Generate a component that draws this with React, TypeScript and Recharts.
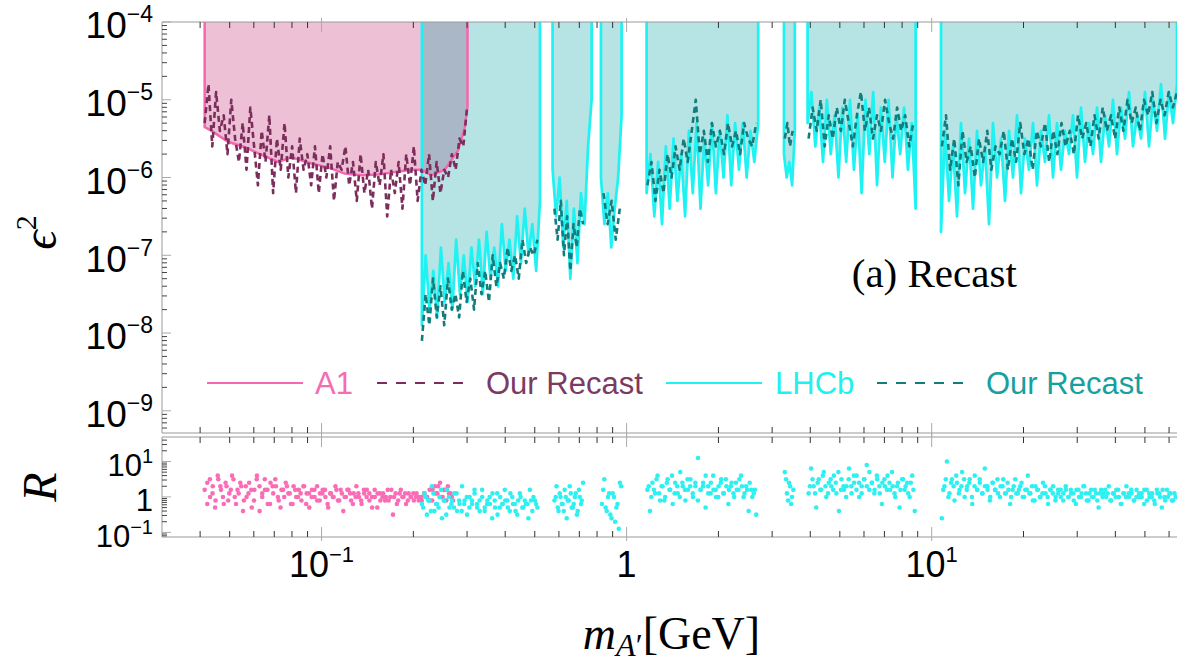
import React from "react";
import {
  ComposedChart,
  Area,
  Line,
  Scatter,
  XAxis,
  YAxis,
  ReferenceDot,
  Legend,
} from "recharts";

// masses in GeV, limits as log10(eps^2), ratios as log10(R)

const a1Mass = [0.0414, 0.0414, 0.0436, 0.0494, 0.0561, 0.0636, 0.0721, 0.0797, 0.0927, 0.1051, 0.1192, 0.1352, 0.1533, 0.1739, 0.1973, 0.2129, 0.2295, 0.2536, 0.2805, 0.295, 0.301, 0.301];
const a1Limit = [-4, -5.35, -5.4, -5.54, -5.61, -5.71, -5.8, -5.74, -5.82, -5.87, -5.95, -5.97, -5.96, -5.93, -5.9, -5.9, -5.97, -5.9, -5.65, -5.35, -5.09, -4];

const a1RecastRange = [0.0414, 0.3];
const a1Recast = [
  -5.3, -4.8, -5.6, -4.9, -5.4, -5.2, -5.7, -5.0, -5.5, -5.8,
  -5.3, -5.9, -5.1, -5.6, -6.1, -5.4, -5.8, -5.2, -6.2, -5.5,
  -5.9, -5.3, -6.0, -5.6, -6.2, -5.5, -5.9, -5.7, -6.1, -5.6,
  -6.2, -5.7, -6.0, -5.6, -6.3, -5.8, -5.9, -5.6, -6.1, -5.8,
  -6.3, -5.7, -6.2, -5.9, -6.4, -5.8, -6.1, -5.7, -6.5, -5.9,
  -6.2, -5.8, -6.4, -5.7, -6.1, -5.6, -6.3, -5.9, -6.1, -5.7,
  -6.3, -5.8, -6.2, -5.9, -6.0, -5.7, -5.9, -5.5, -5.6, -5.1,
];

const lhcbRanges = [
  [0.2133, 0.52], [0.572, 0.768], [0.824, 0.963], [1.163, 2.7], [3.28, 3.56], [3.92, 8.86], [10.73, 63.7],
];
const lhcbLimit = [
  [-7.9, -7.0, -7.7, -7.2, -7.8, -6.9, -7.6, -7.1, -7.7, -6.8, -7.5, -7.0, -7.6, -6.9, -7.4, -6.8,
    -7.5, -6.7, -7.3, -6.9, -7.4, -6.6, -7.2, -6.8, -7.3, -6.5, -7.1, -6.4, -7.0, -6.6, -7.2, -6.3],
  [-5.9, -6.5, -6.0, -6.9, -6.3, -7.3, -6.4, -7.1, -6.2, -6.6, -5.6, -5.0],
  [-6.0, -6.6, -6.2, -6.9, -6.4, -6.0, -5.2],
  [-6.2, -5.7, -6.5, -5.8, -6.6, -5.6, -6.4, -5.5, -6.3, -5.7, -6.5, -5.4, -6.2, -5.3, -6.4,
    -5.5, -6.1, -5.3, -6.2, -5.4, -6.0, -5.2, -6.1, -5.3, -5.9, -5.3, -6.0, -5.4, -5.8, -5.3],
  [-5.7, -6.0, -5.8, -6.1, -5.4],
  [-5.3, -4.9, -5.6, -5.1, -5.8, -5.0, -5.7, -5.2, -6.0, -5.1, -5.8, -5.0, -5.9, -5.2, -6.2,
    -5.0, -5.7, -4.9, -6.1, -5.1, -5.8, -5.0, -6.0, -5.2, -5.7, -5.1, -5.9, -5.3, -6.4],
  [-6.7, -5.4, -6.3, -5.6, -6.5, -5.3, -6.2, -5.5, -6.4, -5.4,
    -6.1, -5.6, -6.6, -5.3, -6.0, -5.5, -6.3, -5.4, -6.0, -5.2,
    -6.2, -5.5, -5.9, -5.3, -6.1, -5.4, -5.8, -5.2, -6.0, -5.3,
    -5.9, -5.4, -5.7, -5.2, -6.0, -5.1, -5.8, -5.3, -5.7, -5.1,
    -5.8, -5.2, -5.6, -5.0, -5.7, -5.1, -5.5, -4.9, -5.6, -5.2,
    -5.5, -4.9, -5.6, -5.0, -5.4, -4.8, -5.5, -4.9, -5.3, -4.8],
];

const lhcbRecastRanges = [
  [0.2133, 0.51], [0.58, 0.72], [0.84, 0.95], [1.17, 2.66], [3.3, 3.5], [3.95, 8.7], [10.8, 63.7],
];
const lhcbRecast = [
  [-8.1, -7.5, -7.9, -7.3, -7.8, -7.4, -7.9, -7.3, -7.7, -7.5, -7.8, -7.2, -7.6, -7.3, -7.7, -7.1,
    -7.5, -7.2, -7.6, -7.0, -7.4, -7.1, -7.3, -6.9, -7.2, -7.0, -7.3, -6.8, -7.1, -6.9, -7.0, -6.8],
  [-6.4, -6.8, -6.3, -7.0, -6.5, -7.2, -6.6, -6.9, -6.4, -6.6],
  [-6.2, -6.6, -6.3, -6.8, -6.4],
  [-6.1, -5.8, -6.3, -5.9, -6.2, -5.7, -6.0, -5.6, -5.9, -5.5, -5.8, -5.4, -5.0, -5.7,
    -5.4, -5.8, -5.3, -5.6, -5.4, -5.7, -5.3, -5.6, -5.4, -5.7, -5.3, -5.5, -5.6, -5.3],
  [-5.5, -5.3, -5.6, -5.4],
  [-5.5, -5.1, -5.4, -5.0, -5.6, -5.2, -5.5, -5.1, -5.4, -5.0, -5.3, -5.6, -5.2, -4.9,
    -5.4, -5.1, -5.5, -5.2, -5.4, -5.0, -5.3, -5.5, -5.1, -5.4, -5.2, -5.6, -5.3],
  [-5.6, -5.2, -5.9, -5.5, -6.1, -5.4, -5.8, -5.6, -6.0, -5.5,
    -5.8, -5.4, -5.9, -5.6, -5.7, -5.4, -5.9, -5.5, -5.8, -5.3,
    -5.7, -5.5, -5.9, -5.4, -5.6, -5.3, -5.8, -5.4, -5.7, -5.3,
    -5.6, -5.4, -5.7, -5.2, -5.5, -5.3, -5.6, -5.2, -5.5, -5.1,
    -5.4, -5.2, -5.5, -5.1, -5.4, -5.0, -5.3, -5.1, -5.4, -5.0,
    -5.2, -4.9, -5.3, -5.0, -5.2, -4.9, -5.1, -4.9],
];

const ratioA1Range = [0.0414, 0.27];
const ratioA1 = [
  0.2, -0.2, 0.5, 0.1, -0.3, 0.6, 0.3, 0.0, 0.4, -0.1, 0.2, 0.5, -0.2, 0.1, 0.3, -0.1,
  0.0, 0.4, -0.3, 0.2, 0.6, -0.4, 0.1, 0.5, 0.2, -0.2, 0.3, 0.5, 0.0, -0.3, 0.2, 0.4,
  0.1, -0.2, 0.3, 0.0, 0.2, -0.1, 0.3, 0.1, -0.3, 0.2, 0.0, 0.3, -0.1, 0.1, 0.2, -0.2,
  0.1, 0.0, 0.3, -0.1, 0.2, -0.4, 0.0, 0.2, -0.1, 0.1, 0.3, 0.0, -0.2, 0.1, 0.2, -0.1,
  0.0, 0.2, -0.3, 0.1, 0.0, -0.1, 0.2, 0.0, -0.5, 0.1, -0.1, 0.2, 0.0, -0.2, 0.1, 0.0,
  -0.1, 0.1, 0.0, -0.1, 0.1, 0.0, 0.2, -0.1, 0.3, 0.1, 0.4, 0.0, 0.2, 0.3, 0.1, -0.1,
];
const ratioA1Extra = [
  0.4, 0.0, 0.3, -0.1, 0.5, 0.2, -0.2, 0.3, 0.1, 0.6, 0.0, 0.2, 0.4, -0.4, 0.3, 0.1,
  0.2, -0.1, 0.5, 0.3, 0.0, 0.2, -0.2, 0.4, 0.1, 0.3, -0.1, 0.2, 0.0, 0.3, 0.1, -0.2,
  0.2, 0.0, 0.1, 0.3, -0.2, 0.1, 0.0, 0.2, -0.1, 0.1, 0.2, 0.0, -0.3, 0.1, 0.0, 0.2,
  -0.1, 0.1, 0.0, 0.2, 0.1, -0.2, 0.0, 0.1, -0.1, 0.2, 0.0, 0.1, -0.3, 0.0, 0.1, -0.1,
  0.1, 0.0, -0.1, 0.2, 0.0, -0.2, 0.1, 0.0, 0.1, -0.1, 0.0, 0.1, 0.0, -0.1, 0.0, 0.1,
  0.0, -0.1, 0.2, 0.1, 0.3, 0.0, 0.2, -0.1, 0.1, 0.0,
];

const ratioLhcbRanges = [
  [0.2133, 0.51], [0.58, 0.72], [0.83, 0.96], [1.17, 2.66], [3.3, 3.52], [3.95, 8.8], [10.8, 63.7],
];
const ratioLhcb = [
  [-0.2, 0.1, -0.5, -0.1, 0.3, -0.4, -0.2, 0.0, -0.6, -0.1, 0.2, -0.3, -0.1, 0.1, -0.4, -0.2,
    0.3, -0.1, -0.5, 0.0, -0.2, 0.1, -0.3, -0.1, 0.2, -0.4, -0.2, 0.0, -0.6, -0.1, 0.1, -0.3,
    -0.2, 0.2, -0.1, -0.4, 0.0, -0.2, -0.5, 0.1, -0.3, -0.1, -0.2, 0.2, -0.4, -0.1, -0.3],
  [-0.1, 0.3, -0.4, 0.0, -0.2, 0.2, -0.6, -0.1, 0.1, -0.3, 0.0, -0.5, 0.2, -0.2, 0.4],
  [-0.2, 0.5, -0.4, 0.1, -0.6, 0.0, -0.3, -0.9, 0.3],
  [0.2, -0.4, 0.4, 0.1, 0.6, -0.1, 0.3, 0.0, 0.5, 0.2, -0.2, 0.4, 0.1, 0.7, 0.3, -0.1,
    0.2, 0.5, 0.0, 0.3, 1.1, 0.2, 0.4, -0.3, 0.3, 0.1, 0.6, 0.2, 0.0, 0.4, 0.1, 0.5,
    -0.2, 0.3, 0.1, 0.4, 0.2, 0.6, 0.0, 0.3, -0.4, 0.2, 0.1, -0.5],
  [0.7, 0.1, 0.4, -0.2, 0.2],
  [0.1, 0.8, 0.3, -0.3, 0.5, 0.2, 0.7, 0.0, 0.4, 0.3, 0.6, 0.1, -0.4, 0.5, 0.2, 0.3,
    0.8, 0.1, 0.4, 0.6, 0.0, 0.3, 0.5, 0.9, 0.2, 0.4, 0.1, 0.6, 0.3, -0.2, 0.5, 0.2,
    0.4, 0.7, 0.1, 0.3, -0.3, 0.5, 0.2, 0.4, 0.0, 0.6, -0.4],
  [-0.6, 0.3, 1.0, 0.1, 0.5, -0.1, 0.4, 0.2, 0.7, 0.0, 0.3, 0.5, -0.2, 0.6, 0.2, 0.4,
    0.1, 0.8, 0.3, -0.1, 0.4, 0.2, 0.5, 0.0, 0.3, 0.1, 0.4, -0.2, 0.2, 0.5, 0.1, 0.3,
    0.0, 0.2, 0.6, 0.1, -0.1, 0.3, 0.2, 0.0, 0.4, 0.1, -0.2, 0.2, 0.3, 0.0, 0.1, 0.2,
    -0.1, 0.3, 0.0, 0.2, 0.1, -0.2, 0.2, 0.0, 0.3, 0.1, -0.1, 0.2, 0.0, 0.1, -0.3, 0.2,
    0.1, 0.0, 0.3, -0.1, 0.1, 0.2, 0.0, -0.2, 0.1, 0.3, 0.0, 0.1, -0.1, 0.2, 0.0, 0.1,
    -0.2, 0.2, 0.1, 0.0, -0.1, 0.2, 0.1, -0.3, 0.0, 0.2, 0.1, -0.1, 0.1, 0.0],
];
const ratioLhcbExtra = [
  [-0.3, 0.0, -0.1, -0.4, 0.1, -0.2, -0.3, 0.2, -0.1, -0.5, 0.0, -0.2, -0.3, 0.1, -0.1, -0.4,
    -0.2, 0.0, -0.3, -0.1, 0.2, -0.2, -0.4, 0.0, -0.3, -0.1, -0.2, 0.1, -0.3, -0.5, 0.0, -0.2,
    -0.1, -0.3, 0.1, -0.2, -0.4, -0.1, 0.0, -0.3, -0.2, -0.6, -0.1, 0.0, -0.2],
  [0.0, -0.3, 0.1, -0.2, -0.4, 0.0, -0.1, 0.3, -0.3, -0.2, 0.1, -0.4, 0.0, -0.1],
  [0.2, -0.3, 0.0, -0.5, 0.1, -0.7, -0.2, 0.4],
  [0.3, 0.0, 0.2, 0.5, 0.1, 0.3, -0.1, 0.4, 0.2, 0.6, 0.1, 0.3, 0.0, 0.4, 0.2, 0.5,
    0.3, 0.1, 0.4, -0.1, 0.2, 0.3, 0.6, 0.1, 0.4, 0.2, 0.0, 0.3, 0.5, 0.1, 0.3, 0.2,
    0.4, 0.0, 0.2, 0.5, 0.3, 0.1, 0.2, 0.4, 0.0, 0.2],
  [0.5, -0.1, 0.3, 0.0],
  [0.3, 0.5, 0.1, 0.4, 0.2, 0.6, 0.3, 0.1, 0.5, 0.2, 0.4, 0.7, 0.2, 0.3, 0.0, 0.5,
    0.3, 0.6, 0.2, 0.4, 0.1, 0.5, 0.3, 0.7, 0.4, 0.2, 0.5, 0.1, 0.4, 0.3, 0.6, 0.2,
    0.3, 0.0, 0.4, 0.2, 0.5, 0.3, 0.1, 0.4, 0.2],
  [0.2, 0.5, 0.0, 0.4, 0.3, 0.6, 0.1, 0.3, 0.5, 0.2, 0.4, 0.0, 0.3, 0.2, 0.5, 0.1,
    0.3, 0.2, 0.0, 0.4, 0.2, 0.1, 0.3, 0.5, 0.1, 0.2, 0.0, 0.3, 0.1, 0.2, 0.4, 0.0,
    0.2, 0.1, 0.3, -0.1, 0.2, 0.0, 0.1, 0.3, 0.0, 0.2, 0.1, -0.1, 0.2, 0.0, 0.1, 0.2,
    0.0, 0.1, -0.1, 0.2, 0.0, 0.1, 0.3, -0.1, 0.1, 0.0, 0.2, -0.1, 0.1, 0.0, 0.2, 0.1,
    -0.1, 0.1, 0.0, 0.2, -0.2, 0.1, 0.0, 0.1, 0.2, -0.1, 0.0, 0.1, 0.0, 0.2, -0.1, 0.0,
    0.1, -0.2, 0.1, 0.0, 0.2, -0.1, 0.0, 0.1, -0.1, 0.0],
];

const xDomain = [0.03, 63.7];
const epsDomain = [5.18e-10, 1e-4];
const ratioDomain = [0.0741, 49];
const xMajor = [0.1, 1, 10];
const epsMajor = [1e-9, 1e-8, 1e-7, 1e-6, 1e-5, 1e-4];
const ratioMajor = [0.1, 1, 10];

const legendItems = [
  { label: "A1", line: "#f766b0", text: "#f56cb2", dashed: false },
  { label: "Our Recast", line: "#7b2d5b", text: "#7b3a62", dashed: true },
  { label: "LHCb", line: "#1ef2f2", text: "#1ff0f0", dashed: false },
  { label: "Our Recast", line: "#137c7c", text: "#16a0a0", dashed: true },
];

const SANS = '"Liberation Sans", Arial, Helvetica, sans-serif';
const SERIF = '"Liberation Serif", "Times New Roman", serif';
const TOP = 1e-4;

const withMinors = (majors: number[], lo: number, hi: number) => {
  const out: number[] = [];
  majors.concat([majors[0] / 10]).forEach((d) => {
    for (let k = 1; k < 10; k++) {
      const v = k * d;
      if (v >= lo && v <= hi) out.push(v);
    }
  });
  return out.sort((a, b) => a - b);
};

const spread = (lo: number, hi: number, n: number) =>
  Array.from({ length: n }, (_, i) => lo * Math.pow(hi / lo, n === 1 ? 0 : i / (n - 1)));

const isMajor = (v: number) => Math.abs(Math.log10(v) - Math.round(Math.log10(v))) < 1e-6;

const a1Band = a1Mass.map((m, i) => ({ m, band: [10 ** a1Limit[i], TOP] }));
const a1Line = a1Mass.map((m, i) => ({ m, v: 10 ** a1Limit[i] }));
const a1RecastLine = spread(a1RecastRange[0], a1RecastRange[1], a1Recast.length).map((m, i) => ({
  m,
  v: 10 ** a1Recast[i],
}));

const lhcbLines = lhcbRanges.map(([lo, hi], s) => {
  const vals = lhcbLimit[s];
  const pts = spread(lo, hi, vals.length).map((m, i) => ({ m, v: 10 ** vals[i] }));
  return [{ m: lo, v: TOP }, ...pts, { m: hi, v: TOP }];
});
const lhcbBands = lhcbLines.map((pts) => pts.map((p) => ({ m: p.m, band: [p.v, TOP] })));
const lhcbRecastLines = lhcbRecastRanges.map(([lo, hi], s) =>
  spread(lo, hi, lhcbRecast[s].length).map((m, i) => ({ m, v: 10 ** lhcbRecast[s][i] }))
);

const toPoints = (lo: number, hi: number, vals: number[]) =>
  spread(lo, hi, vals.length).map((m, i) => ({ m, r: 10 ** vals[i] }));

const ratioA1Pts = [
  ...toPoints(ratioA1Range[0], ratioA1Range[1], ratioA1),
  ...toPoints(ratioA1Range[0] * 1.02, ratioA1Range[1] * 0.99, ratioA1Extra),
];
const ratioLhcbPts = ratioLhcbRanges.flatMap(([lo, hi], s) => [
  ...toPoints(lo, hi, ratioLhcb[s]),
  ...toPoints(lo * 1.01, hi * 0.99, ratioLhcbExtra[s]),
]);

const xTicks = withMinors(xMajor, xDomain[0] * 1.01, xDomain[1]);
const epsTicks = withMinors(epsMajor, epsDomain[0], epsDomain[1] * 1.0001);
const ratioTicks = withMinors(ratioMajor, ratioDomain[0], ratioDomain[1]);

const powText = (v: number, sup: number, raise: number) => {
  const e = Math.round(Math.log10(v));
  if (e === 0) return "1";
  return (
    <>
      10
      <tspan dy={-raise} fontSize={sup}>
        {e < 0 ? "\u2212" + -e : String(e)}
      </tspan>
    </>
  );
};

const LeftTick = (fs: number, sup: number, raise: number) => (p: any) => {
  const v = p.payload.value;
  const major = isMajor(v);
  return (
    <g>
      <line x1={p.x} x2={p.x + (major ? 9 : 5)} y1={p.y} y2={p.y} stroke={major ? "#aaa" : "#444"} strokeWidth={1} />
      {major && (
        <text x={p.x - 9} y={p.y + fs * 0.36 + 3} textAnchor="end" fontSize={fs} fontFamily={SANS} fill="#000">
          {powText(v, sup, raise)}
        </text>
      )}
    </g>
  );
};

const EdgeTick = (dir: number, labels: boolean) => (p: any) => {
  const v = p.payload.value;
  const major = isMajor(v);
  return (
    <g>
      {major ? (
        <line x1={p.x} x2={p.x} y1={p.y - dir * 4} y2={p.y + dir * 10} stroke="#aaa" />
      ) : (
        <line x1={p.x} x2={p.x} y1={p.y} y2={p.y + dir * 6} stroke="#333" />
      )}
      {labels && major && (
        <text x={p.x} y={p.y + 40} textAnchor="middle" fontSize={36} fontFamily={SANS} fill="#000">
          {powText(v, 22, 15)}
        </text>
      )}
    </g>
  );
};

const EpsTitle = (p: any) => {
  const cy = p.viewBox.y + p.viewBox.height / 2 + 5;
  return (
    <text transform={`translate(56, ${cy}) rotate(-90)`} textAnchor="middle" fontFamily={SERIF} fontSize={48} fontStyle="italic" fill="#000">
      {"\u03f5"}
      <tspan dy={-20} fontSize={30} fontStyle="normal">2</tspan>
    </text>
  );
};

const RTitle = (p: any) => {
  const cy = p.viewBox.y + p.viewBox.height / 2;
  return (
    <text transform={`translate(56, ${cy}) rotate(-90)`} textAnchor="middle" fontFamily={SERIF} fontSize={48} fontStyle="italic" fill="#000">
      R
    </text>
  );
};

const MassTitle = (p: any) => {
  const cx = p.viewBox.x + p.viewBox.width / 2 + 2;
  return (
    <text x={cx} y={p.viewBox.y + 112} textAnchor="middle" fontFamily={SERIF} fontSize={46} fill="#000">
      <tspan fontStyle="italic">m</tspan>
      <tspan dy={7} fontSize={32} fontStyle="italic">A</tspan>
      <tspan fontSize={32}>{"\u2032"}</tspan>
      <tspan dy={-7}>[GeV]</tspan>
    </text>
  );
};

const RecastNote = (p: any) => (
  <text x={p.viewBox.x} y={p.viewBox.y + 14} textAnchor="middle" fontFamily={SERIF} fontSize={41} fill="#000">
    (a) Recast
  </text>
);

const legendLayout = [
  { x: 207, len: 96, tx: 315 },
  { x: 377, len: 86, tx: 486 },
  { x: 666, len: 96, tx: 775 },
  { x: 877, len: 88, tx: 986 },
];

const LegendBox = () => (
  <svg width={1177} height={44} style={{ display: "block" }}>
    {legendItems.map((it, i) => {
      const l = legendLayout[i];
      return (
        <g key={i}>
          <line
            x1={l.x}
            x2={l.x + l.len}
            y1={21}
            y2={21}
            stroke={it.line}
            strokeWidth={2}
            strokeDasharray={it.dashed ? "10 9" : undefined}
          />
          <text x={l.tx} y={32} fontFamily={SANS} fontSize={31} fill={it.text}>
            {it.label}
          </text>
        </g>
      );
    })}
  </svg>
);

const Dot = (color: string) => (p: any) => <circle cx={p.cx} cy={p.cy} r={2.3} fill={color} />;

const axisCommon = {
  dataKey: "m",
  type: "number" as const,
  scale: "log" as const,
  domain: xDomain,
  allowDataOverflow: true,
  ticks: xTicks,
  interval: 0 as const,
  height: 1,
  tickSize: 0,
  tickMargin: 0,
  tickLine: false,
  axisLine: { stroke: "#999" },
};

export default function App() {
  return (
    <div style={{ position: "relative", width: 1177, height: 663, background: "#fff", overflow: "hidden" }}>
      <style>{"body{margin:0}"}</style>
      <div style={{ position: "absolute", left: 0, top: 0 }}>
        <ComposedChart width={1177} height={663} margin={{ top: 436, right: 0, bottom: 125, left: 0 }}>
          <XAxis {...axisCommon} tick={EdgeTick(-1, true)} label={<MassTitle />} />
          <XAxis {...axisCommon} xAxisId="top" orientation="top" tick={EdgeTick(1, false)} />
          <YAxis
            type="number"
            scale="log"
            domain={ratioDomain}
            allowDataOverflow
            ticks={ratioTicks}
            interval={0}
            width={162}
            tickSize={0}
            tickMargin={0}
            tickLine={false}
            axisLine={{ stroke: "#999" }}
            tick={LeftTick(31, 20, 13)}
            label={<RTitle />}
          />
          <Scatter data={ratioA1Pts} dataKey="r" shape={Dot("#fa6cb6")} isAnimationActive={false} />
          <Scatter data={ratioLhcbPts} dataKey="r" shape={Dot("#2ef0f0")} isAnimationActive={false} />
        </ComposedChart>
      </div>
      <div style={{ position: "absolute", left: 0, top: 0 }}>
        <ComposedChart width={1177} height={440} margin={{ top: 21, right: 0, bottom: 6, left: 0 }}>
          <XAxis {...axisCommon} tick={EdgeTick(-1, false)} />
          <XAxis {...axisCommon} xAxisId="top" orientation="top" tick={EdgeTick(1, false)} />
          <YAxis
            type="number"
            scale="log"
            domain={epsDomain}
            allowDataOverflow
            ticks={epsTicks}
            interval={0}
            width={162}
            tickSize={0}
            tickMargin={0}
            tickLine={false}
            axisLine={{ stroke: "#999" }}
            tick={LeftTick(37, 23, 16)}
            label={<EpsTitle />}
          />
          <Legend
            layout="horizontal"
            verticalAlign="middle"
            align="center"
            wrapperStyle={{ top: 362, left: 0, width: 1177 }}
            content={() => <LegendBox />}
          />
          <Area
            data={a1Band}
            dataKey="band"
            type="linear"
            stroke="none"
            fill="rgb(195,48,118)"
            fillOpacity={0.3}
            isAnimationActive={false}
            legendType="none"
          />
          {lhcbBands.map((d, i) => (
            <Area
              key={"b" + i}
              data={d}
              dataKey="band"
              type="linear"
              stroke="none"
              fill="rgb(19,165,165)"
              fillOpacity={0.31}
              isAnimationActive={false}
              legendType="none"
            />
          ))}
          {lhcbLines.map((d, i) => (
            <Line
              key={"l" + i}
              data={d}
              dataKey="v"
              type="linear"
              stroke="#1ef2f2"
              strokeWidth={2.7}
              strokeLinejoin="round"
              dot={false}
              activeDot={false}
              isAnimationActive={false}
              legendType="none"
            />
          ))}
          {lhcbRecastLines.map((d, i) => (
            <Line
              key={"r" + i}
              data={d}
              dataKey="v"
              type="linear"
              stroke="#137c7c"
              strokeWidth={2.6}
              strokeDasharray="6 4"
              strokeLinejoin="round"
              dot={false}
              activeDot={false}
              isAnimationActive={false}
              legendType="none"
            />
          ))}
          <Line
            data={a1Line}
            dataKey="v"
            type="linear"
            stroke="#f766b0"
            strokeWidth={2.5}
            dot={false}
            activeDot={false}
            isAnimationActive={false}
            legendType="none"
          />
          <Line
            data={a1RecastLine}
            dataKey="v"
            type="linear"
            stroke="#7b2d5b"
            strokeWidth={2.6}
            strokeDasharray="6 4"
            strokeLinejoin="round"
            dot={false}
            activeDot={false}
            isAnimationActive={false}
            legendType="none"
          />
          <ReferenceDot x={10.2} y={5.9e-8} r={0} fill="none" stroke="none" label={<RecastNote />} />
        </ComposedChart>
      </div>
    </div>
  );
}
